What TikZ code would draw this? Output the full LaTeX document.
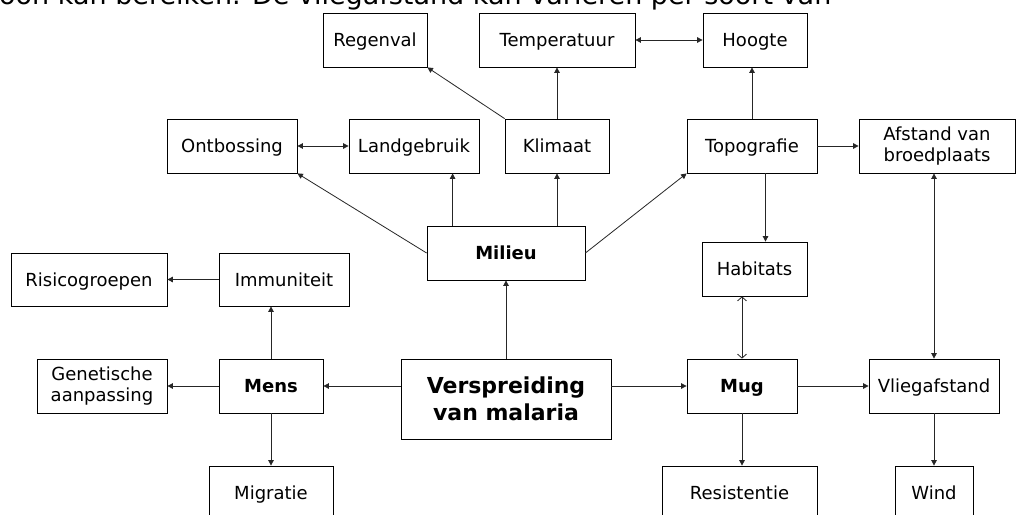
\documentclass[tikz,border=0pt]{standalone}
\usepackage{fontspec}
\setmainfont{DejaVu Sans}
\usetikzlibrary{arrows.meta}
\begin{document}
\begin{tikzpicture}[x=1pt,y=-1pt,
  mbox/.style={draw=black, line width=0.8pt, inner sep=0pt, align=center,
    font=\fontsize{18}{21}\selectfont, minimum height=54pt},
  box/.style={mbox, text height=17pt, text depth=4pt},
  bbox/.style={box, font=\fontsize{18}{21}\selectfont\bfseries},
  con/.style={draw=black!85, line width=0.8pt, -{Triangle[length=5.5pt,width=5.5pt]}},
  dcon/.style={draw=black!85, line width=0.8pt, {Triangle[length=5.5pt,width=5.5pt]}-{Triangle[length=5.5pt,width=5.5pt]}},
  ocon/.style={draw=black!85, line width=0.8pt, {Straight Barb[length=4pt,width=9pt]}-{Straight Barb[length=4pt,width=9pt]}},
]
\useasboundingbox (0,0) rectangle (1019,514);
\clip (0,0) rectangle (1019,514);
\fill[white] (0,0) rectangle (1019,514);

\node[anchor=base west, inner sep=0pt, font=\fontsize{27}{30}\selectfont] (toptext) at (-1,5)
  {oon kan bereiken. De vliegafstand kan variëren per soort van};

% top row
\node[box, minimum width=104pt] (regen) at (375,40) {Regenval};
\node[box, minimum width=156pt] (temp) at (557,40) {Temperatuur};
\node[box, minimum width=104pt] (hoogte) at (755,40) {Hoogte};
% second row
\node[box, minimum width=130pt] (ontb) at (232,146) {Ontbossing};
\node[box, minimum width=130pt] (land) at (414,146) {Landgebruik};
\node[box, minimum width=104pt] (klimaat) at (557,146) {Klimaat};
\node[box, minimum width=130pt] (topo) at (752,146) {Topografie};
\node[mbox, minimum width=156pt] (afstand) at (937,146) {Afstand van\\broedplaats};
% third row
\node[bbox, minimum width=158pt] (milieu) at (506,253) {Milieu};
\node[box, minimum width=156pt, minimum height=53pt] (risico) at (89,279.5) {Risicogroepen};
\node[box, minimum width=130pt, minimum height=53pt] (immu) at (284,279.5) {Immuniteit};
\node[box, minimum width=105pt] (habitats) at (754.5,269) {Habitats};
% fourth row
\node[mbox, minimum width=130pt] (gen) at (102,386) {Genetische\\aanpassing};
\node[bbox, minimum width=104pt] (mens) at (271,386) {Mens};
\node[mbox, minimum width=210pt, minimum height=80pt, font=\fontsize{22}{27}\selectfont\bfseries] (versp) at (506,399) {Verspreiding\\van malaria};
\node[bbox, minimum width=110pt] (mug) at (742,386) {Mug};
\node[box, minimum width=130pt] (vlieg) at (934,386) {Vliegafstand};
% bottom row
\node[box, minimum width=124pt] (migr) at (271,493) {Migratie};
\node[box, minimum width=155pt] (resist) at (739.5,493) {Resistentie};
\node[box, minimum width=78pt] (wind) at (934,493) {Wind};

% helper coordinates
\coordinate (mland) at ([xshift=26pt]milieu.north west);
\coordinate (thab) at ([xshift=11pt]habitats.north);

% connectors
\draw[con] (klimaat.north) -- (temp.south);
\draw[con] (klimaat.north west) -- (regen.south east);
\draw[dcon] (temp.east) -- (hoogte.west);
\draw[con] (topo.north) -- (topo.north |- hoogte.south);
\draw[dcon] (ontb.east) -- (land.west);
\draw[con] (mland) -- (mland |- land.south);
\draw[con] (klimaat.south |- milieu.north) -- (klimaat.south);
\draw[con] (milieu.west) -- (ontb.south east);
\draw[con] (milieu.east) -- (topo.south west);
\draw[con] (topo.east) -- (afstand.west);
\draw[con] (thab |- topo.south) -- (thab);
\draw[dcon] (vlieg.north |- afstand.south) -- (vlieg.north);
\draw[ocon] (mug.north |- habitats.south) -- (mug.north);
\draw[con] (versp.north) -- (milieu.south);
\draw[con] (mens.east -| versp.west) -- (mens.east);
\draw[con] (mug.west -| versp.east) -- (mug.west);
\draw[con] (mens.north) -- (mens.north |- immu.south);
\draw[con] (immu.west) -- (risico.east);
\draw[con] (mens.west) -- (gen.east);
\draw[con] (mens.south) -- (mens.south |- migr.north);
\draw[con] (mug.east) -- (vlieg.west);
\draw[con] (mug.south) -- (mug.south |- resist.north);
\draw[con] (vlieg.south) -- (wind.north);
\end{tikzpicture}
\end{document}
